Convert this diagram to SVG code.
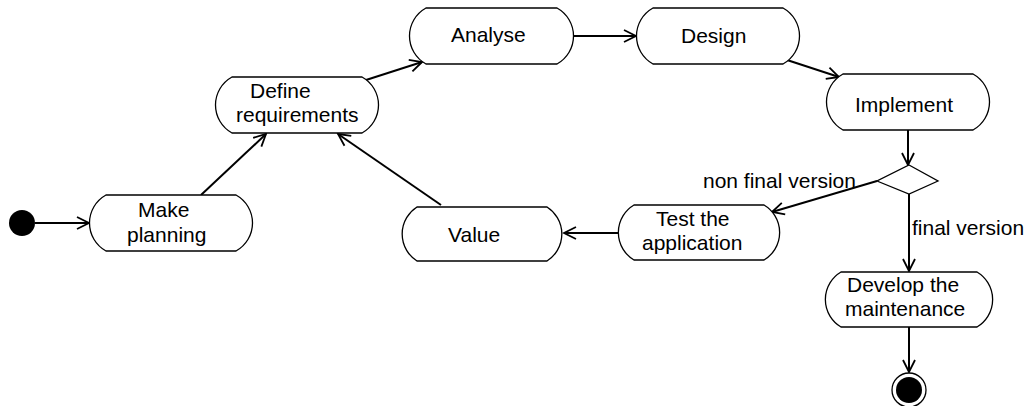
<svg xmlns="http://www.w3.org/2000/svg" width="1027" height="406" viewBox="0 0 1027 406">
<style>
.node{fill:#fff;stroke:#000;stroke-width:1.3}
.lbl{font-family:"Liberation Sans",Arial,sans-serif;font-size:21px;fill:#000}
.edge{fill:none;stroke:#000;stroke-width:2}
</style>
<defs>
<marker id="arr" viewBox="-14 -8 16 16" refX="0" refY="0" markerWidth="16" markerHeight="16" orient="auto" markerUnits="userSpaceOnUse">
<path d="M-12,-6 L0,0 L-12,6" fill="none" stroke="#000" stroke-width="1.8"/>
</marker>
</defs>
<rect width="1027" height="406" fill="#fff"/>
<g id="connectors">
<line class="edge" x1="35" y1="223" x2="89" y2="223" marker-end="url(#arr)"/>
<line class="edge" x1="201" y1="195" x2="266" y2="134" marker-end="url(#arr)"/>
<line class="edge" x1="366" y1="80" x2="422" y2="62" marker-end="url(#arr)"/>
<line class="edge" x1="573" y1="36" x2="636" y2="36" marker-end="url(#arr)"/>
<line class="edge" x1="787" y1="60" x2="839" y2="77" marker-end="url(#arr)"/>
<line class="edge" x1="908" y1="130" x2="908" y2="165" marker-end="url(#arr)"/>
<line class="edge" x1="877" y1="181" x2="772" y2="212" marker-end="url(#arr)"/>
<line class="edge" x1="618" y1="233" x2="564" y2="233" marker-end="url(#arr)"/>
<line class="edge" x1="441" y1="205" x2="338" y2="134" marker-end="url(#arr)"/>
<line class="edge" x1="909" y1="194" x2="909" y2="271" marker-end="url(#arr)"/>
<line class="edge" x1="909" y1="327" x2="909" y2="372" marker-end="url(#arr)"/>
<text class="lbl" x="703" y="188">non final version</text>
<text class="lbl" x="912" y="235">final version</text>
</g>
<g id="start">
<circle cx="22" cy="223" r="13" fill="#000"/>
</g>
<g id="make-planning">
<path class="node" d="M106,195 H236 A32,32 0 0 1 236,251 H106 A32,32 0 0 1 106,195 Z"/>
<text class="lbl" x="138" y="217">Make</text>
<text class="lbl" x="127" y="242">planning</text>
</g>
<g id="define-requirements">
<path class="node" d="M232,77 H362 A32,32 0 0 1 362,133 H232 A32,32 0 0 1 232,77 Z"/>
<text class="lbl" x="250" y="98">Define</text>
<text class="lbl" x="236" y="122">requirements</text>
</g>
<g id="analyse">
<path class="node" d="M426,8 H557 A32,32 0 0 1 557,64 H426 A32,32 0 0 1 426,8 Z"/>
<text class="lbl" x="451" y="42">Analyse</text>
</g>
<g id="design">
<path class="node" d="M653,8 H783 A32,32 0 0 1 783,64 H653 A32,32 0 0 1 653,8 Z"/>
<text class="lbl" x="681" y="43">Design</text>
</g>
<g id="implement">
<path class="node" d="M843,74 H973 A32,32 0 0 1 973,130 H843 A32,32 0 0 1 843,74 Z"/>
<text class="lbl" x="855" y="112">Implement</text>
</g>
<g id="decision">
<polygon class="node" points="909,165 938,181 909,194 877,181"/>
</g>
<g id="test-application">
<path class="node" d="M634,205 H764 A32,32 0 0 1 764,260 H634 A32,32 0 0 1 634,205 Z"/>
<text class="lbl" x="656" y="226">Test the</text>
<text class="lbl" x="642" y="250">application</text>
</g>
<g id="value">
<path class="node" d="M417,207 H547 A32,32 0 0 1 547,261 H417 A32,32 0 0 1 417,207 Z"/>
<text class="lbl" x="448" y="242">Value</text>
</g>
<g id="develop-maintenance">
<path class="node" d="M841,272 H977 A32,32 0 0 1 977,327 H841 A32,32 0 0 1 841,272 Z"/>
<text class="lbl" x="847" y="292">Develop the</text>
<text class="lbl" x="845" y="316">maintenance</text>
</g>
<g id="end">
<circle cx="909" cy="390" r="17" fill="#fff" stroke="#000" stroke-width="1.3"/>
<circle cx="909" cy="390" r="13" fill="#000"/>
</g>
</svg>
